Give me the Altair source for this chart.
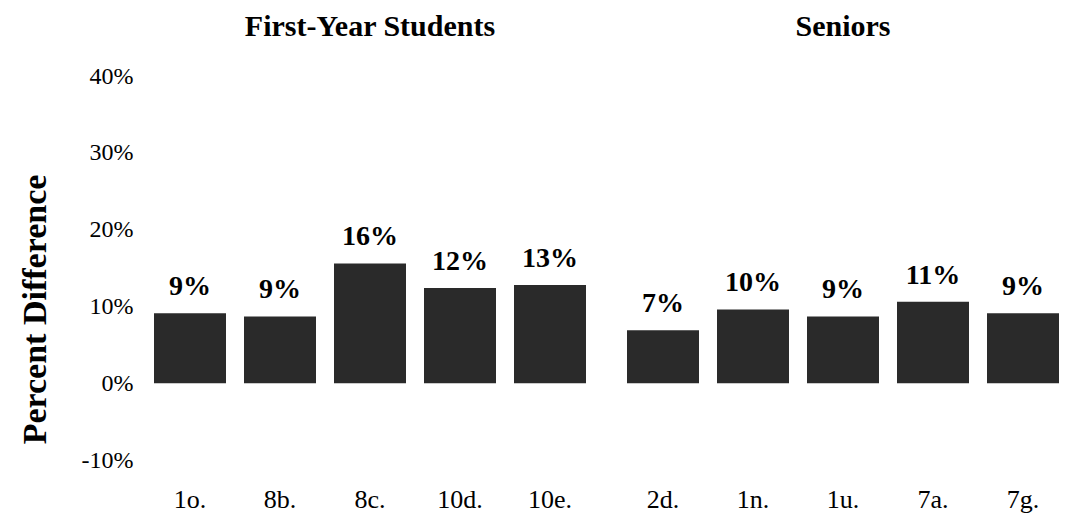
import altair as alt
import pandas as pd

groups = ["First-Year Students"] * 5 + ["Seniors"] * 5
categories = ["1o.", "8b.", "8c.", "10d.", "10e.", "2d.", "1n.", "1u.", "7a.", "7g."]
values = [9.1, 8.7, 15.6, 12.4, 12.8, 6.9, 9.6, 8.7, 10.6, 9.1]
labels = ["9%", "9%", "16%", "12%", "13%", "7%", "10%", "9%", "11%", "9%"]
y_ticks = [-10, 0, 10, 20, 30, 40]

df = pd.DataFrame({"group": groups, "cat": categories, "value": values, "label": labels})

SERIF = "'Liberation Serif', 'Times New Roman', 'DejaVu Serif', serif"

x = alt.X(
    "cat:N",
    sort=None,
    scale=alt.Scale(paddingInner=0.2, paddingOuter=0.1),
    axis=alt.Axis(title=None, labelAngle=0, labelFont=SERIF, labelFontSize=26,
                  labelColor="black", labelPadding=26, ticks=False, domain=False),
)
y = alt.Y(
    "value:Q",
    scale=alt.Scale(domain=[-10, 40], nice=False, zero=False),
    axis=alt.Axis(values=y_ticks, labelExpr="datum.value + '%'", grid=False, ticks=False,
                  domain=False, labelFont=SERIF, labelFontSize=24, labelColor="black",
                  labelPadding=12, title="Percent Difference", titleFont=SERIF,
                  titleFontSize=34, titleFontWeight="bold", titleColor="black",
                  titleAngle=270, titleX=-100, titleY=233, titleBaseline="alphabetic"),
)

bars = alt.Chart().mark_bar(color="#2a2a2a").encode(x=x, y=y)
text = alt.Chart().mark_text(dy=-18, baseline="alphabetic", font=SERIF, fontSize=28,
                             fontWeight="bold", color="black").encode(
    x=alt.X("cat:N", sort=None), y=alt.Y("value:Q"), text="label:N")

chart = alt.layer(bars, text, data=df).properties(width=450, height=384).facet(
    column=alt.Column("group:N", sort=["First-Year Students", "Seniors"],
                      header=alt.Header(title=None, labelFont=SERIF, labelFontSize=30,
                                        labelFontWeight="bold", labelColor="black",
                                        labelOrient="top", labelPadding=34)),
    spacing=23,
).resolve_scale(x="independent").properties(
    padding={"left": 10, "top": 4, "right": 5, "bottom": 5}
).configure_view(stroke=None)

chart.save("out.html", embed_options={"renderer": "svg", "actions": False})
